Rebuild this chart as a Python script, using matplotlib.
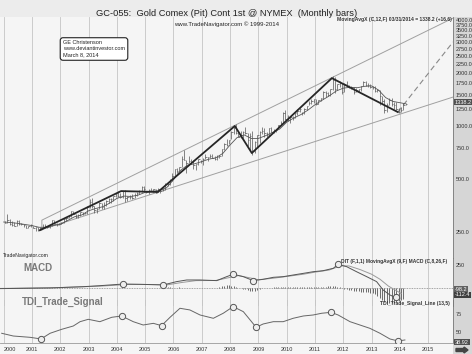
import numpy as np
import matplotlib
matplotlib.use("Agg")
import matplotlib.pyplot as plt
from matplotlib.patches import Rectangle, FancyArrow

plt.rcParams['font.family'] = ['Liberation Sans', 'DejaVu Sans']

# ---------------- DATA ----------------
# monthly gold bars, Jan 2000 .. Mar 2014
highs = [289, 315, 297, 290, 285, 293, 292, 282, 279, 275, 272, 276,
         272, 268, 268, 266, 278, 276, 270, 275, 294, 293, 281, 280,
         284, 302, 304, 310, 328, 330, 316, 317, 326, 326, 323, 350,
         385, 389, 352, 341, 370, 367, 369, 380, 391, 392, 398, 418,
         429, 419, 430, 432, 400, 404, 410, 417, 420, 431, 455, 457,
         428, 438, 445, 438, 440, 443, 435, 447, 474, 477, 497, 541,
         572, 575, 587, 676, 732, 642, 675, 650, 638, 610, 649, 640,
         657, 689, 670, 692, 692, 673, 683, 684, 743, 797, 841, 834,
         933, 1008, 1033, 933, 934, 939, 988, 915, 911, 936, 827, 887,
         937, 991, 969, 923, 980, 982, 961, 964, 1019, 1070, 1195, 1227,
         1161, 1129, 1135, 1180, 1249, 1266, 1199, 1258, 1307, 1381, 1425, 1432,
         1421, 1411, 1445, 1575, 1578, 1560, 1632, 1917, 1895, 1728, 1805, 1762,
         1764, 1792, 1720, 1678, 1666, 1638, 1632, 1693, 1791, 1795, 1754, 1723,
         1697, 1681, 1616, 1604, 1487, 1424, 1348, 1434, 1434, 1361, 1362, 1264,
         1280, 1346, 1355]
lows = [280, 283, 275, 271, 270, 271, 275, 273, 268, 262, 262, 268,
        262, 255, 255, 256, 265, 265, 265, 264, 271, 276, 270, 273,
        277, 280, 288, 300, 305, 316, 302, 300, 310, 311, 315, 318,
        343, 343, 320, 320, 337, 340, 340, 350, 365, 365, 377, 396,
        397, 392, 390, 371, 374, 387, 385, 388, 399, 412, 421, 428,
        418, 413, 425, 423, 415, 421, 418, 430, 433, 456, 462, 490,
        520, 540, 552, 583, 637, 543, 614, 605, 570, 560, 600, 614,
        604, 649, 636, 660, 655, 642, 645, 656, 673, 729, 775, 790,
        845, 905, 906, 869, 850, 860, 900, 774, 735, 681, 706, 758,
        802, 901, 865, 866, 878, 923, 908, 928, 992, 1019, 1044, 1077,
        1069, 1045, 1088, 1112, 1160, 1206, 1157, 1177, 1241, 1316, 1331, 1358,
        1309, 1331, 1381, 1424, 1462, 1478, 1480, 1609, 1532, 1600, 1671, 1523,
        1563, 1701, 1640, 1612, 1527, 1563, 1566, 1589, 1692, 1692, 1673, 1635,
        1626, 1555, 1566, 1322, 1339, 1180, 1208, 1311, 1291, 1251, 1232, 1182,
        1200, 1239, 1320]
closes = [283, 293, 277, 274, 272, 288, 276, 278, 273, 264, 270, 273,
          265, 267, 258, 264, 266, 271, 266, 273, 293, 279, 275, 279,
          282, 297, 302, 308, 327, 318, 304, 313, 324, 317, 319, 348,
          368, 350, 335, 337, 364, 346, 354, 375, 385, 386, 398, 417,
          401, 397, 427, 388, 394, 395, 391, 408, 416, 429, 453, 438,
          422, 435, 428, 436, 417, 436, 429, 434, 470, 471, 496, 518,
          569, 557, 584, 653, 643, 616, 634, 626, 598, 605, 648, 635,
          651, 666, 663, 680, 659, 651, 666, 673, 743, 789, 783, 834,
          923, 971, 916, 865, 886, 930, 914, 833, 880, 718, 814, 884,
          928, 942, 917, 891, 979, 927, 955, 955, 1008, 1040, 1182, 1096,
          1081, 1118, 1113, 1179, 1212, 1245, 1181, 1248, 1307, 1357, 1385, 1421,
          1333, 1409, 1439, 1556, 1536, 1500, 1628, 1825, 1620, 1725, 1746, 1566,
          1738, 1710, 1669, 1664, 1561, 1604, 1615, 1692, 1776, 1719, 1713, 1676,
          1663, 1578, 1597, 1476, 1393, 1234, 1313, 1396, 1327, 1323, 1250, 1202,
          1240, 1322, 1340]

# 12 month moving average, quarterly readings
ma_years = [2000.0, 2000.25, 2000.5, 2000.75, 2001.0, 2001.25, 2001.5, 2001.75,
            2002.0, 2002.25, 2002.5, 2002.75, 2003.0, 2003.25, 2003.5, 2003.75,
            2004.0, 2004.25, 2004.5, 2004.75, 2005.0, 2005.25, 2005.5, 2005.75,
            2006.0, 2006.25, 2006.5, 2006.75, 2007.0, 2007.25, 2007.5, 2007.75,
            2008.0, 2008.25, 2008.5, 2008.75, 2009.0, 2009.25, 2009.5, 2009.75,
            2010.0, 2010.25, 2010.5, 2010.75, 2011.0, 2011.25, 2011.5, 2011.75,
            2012.0, 2012.25, 2012.5, 2012.75, 2013.0, 2013.25, 2013.5, 2013.75,
            2014.2]
ma_vals = [285, 283, 280, 276, 272, 266, 266, 272,
           277, 290, 305, 312, 330, 340, 348, 365,
           388, 400, 398, 405, 420, 427, 430, 445,
           495, 560, 600, 610, 628, 648, 660, 700,
           780, 860, 890, 850, 850, 880, 920, 960,
           1050, 1110, 1160, 1230, 1320, 1400, 1480, 1580,
           1640, 1660, 1650, 1680, 1690, 1600, 1450, 1380,
           1338]

# hand drawn trend lines
zig_years = [2001.28, 2004.15, 2005.45, 2008.17, 2008.77, 2011.6, 2013.93]
zig_vals = [256, 427, 422, 1000, 702, 1870, 1200]
upper_years = [2001.35, 2001.35, 2015.88]
upper_vals = [256, 292, 4100]
lower_years = [2001.28, 2015.88]
lower_vals = [256, 1460]
dash_years = [2013.93, 2015.88]
dash_vals = [1200, 3000]

price_ticks = [4000, 3750, 3500, 3250, 3000, 2750, 2500, 2250, 2000, 1750,
               1500, 1250, 1000, 750, 500, 250]

# MACD
macd_years = [1999.87, 2001.64, 2002.81, 2003.4, 2004.23, 2004.82, 2005.64,
              2006.11, 2006.47, 2006.94, 2007.53, 2007.88, 2008.11, 2008.47,
              2008.82, 2009.17, 2009.53, 2009.88, 2010.23, 2010.59, 2010.94,
              2011.29, 2011.65, 2011.82, 2012.12, 2012.47, 2012.83, 2013.18,
              2013.41, 2013.65, 2013.83, 2014.0]
macd_vals = [-7, 0, 14, 25, 43, 40, 33, 69, 87, 87, 80, 123, 149, 123, 80,
             94, 116, 123, 141, 159, 177, 188, 214, 257, 232, 177, 123, 69,
             -22, -76, -101, -112]
sig_years = [1999.87, 2002.0, 2003.4, 2004.4, 2005.0, 2005.8, 2006.3, 2006.8,
             2007.5, 2008.0, 2008.3, 2008.7, 2009.0, 2009.5, 2010.0, 2010.6,
             2011.0, 2011.5, 2011.9, 2012.2, 2012.6, 2013.0, 2013.3, 2013.6,
             2014.05]
sig_vals = [-5, 5, 20, 38, 38, 35, 60, 80, 82, 115, 135, 110, 90, 105, 125,
            150, 172, 195, 240, 240, 200, 150, 95, 20, -60]
macd_circ_years = [2004.23, 2005.64, 2008.11, 2008.82, 2011.82, 2013.85]
macd_circ_vals = [43, 33, 149, 80, 257, -101]
# histogram, monthly from Jul 2005 to Feb 2014
hist_vals = [3, 4, 5, 6, 6, 5,
             5, 5, 6, 4, 3, 0, -2, -3, -2, 0, 0, 0,
             0, 0, 0, 0, 0, 0, 5, 10, 20, 25, 28, 30,
             25, 20, 15, 5, -5, -10, -15, -25, -30, -35, -30, -20,
             -10, 0, 0, 0, 5, 5, 8, 10, 10, 12, 15, 12,
             10, 10, 8, 8, 10, 12, 10, 10, 12, 12, 12, 14,
             12, 14, 14, 12, 14, 18, 18, 25, 20, 15, 10, 0,
             -10, -15, -20, -25, -30, -35, -35, -40, -40, -40, -45, -50,
             -55, -70, -90, -110, -130, -150, -160, -165, -165, -160, -150, -140,
             -130, -120]

# TDI trade signal
tdi_years = [1999.93, 2000.34, 2000.93, 2001.32, 2001.64, 2002.05, 2002.46,
             2002.7, 2002.99, 2003.4, 2003.82, 2004.17, 2004.58, 2004.93,
             2005.29, 2005.58, 2005.88, 2006.23, 2006.58, 2006.94, 2007.41,
             2007.76, 2008.11, 2008.47, 2008.76, 2008.92, 2009.17, 2009.53,
             2009.88, 2010.23, 2010.59, 2010.94, 2011.24, 2011.57, 2011.82,
             2012.24, 2012.59, 2012.94, 2013.3, 2013.65, 2013.94, 2014.18]
tdi_vals = [48.2, 44.4, 42.6, 40.3, 48.2, 53.7, 58.3, 64.3, 67.6, 64.3, 70.4,
            72.2, 64.3, 59.7, 62.0, 58.8, 70.4, 82.9, 80.6, 73.6, 69.0, 76.0,
            85.2, 78.2, 64.3, 56.5, 61.1, 64.3, 64.3, 69.0, 72.2, 73.6, 76.0,
            77.3, 73.6, 64.3, 59.7, 55.1, 48.2, 40.3, 37.5, 38.9]
tdi_circ_years = [2001.32, 2004.17, 2005.58, 2008.11, 2008.92, 2011.57, 2013.94]
tdi_circ_vals = [40.3, 72.2, 58.8, 85.2, 56.5, 77.3, 37.5]

years = list(range(2000, 2016))

# ---------------- FIGURE ----------------
W, H = 472, 354
fig = plt.figure(figsize=(W / 100, H / 100), dpi=100, facecolor='#ececec')

def box(x0, y0, x1, y1):
    return [x0 / W, 1 - y1 / H, (x1 - x0) / W, (y1 - y0) / H]

XL = (1999.87, 2015.88)
grid_c = '#c4c4c4'
bar_c = '#555555'
small = 4.0

# light chart area and right grey strip (drawn below the axes)
fig.patches.append(Rectangle((0, 0), 453 / W, 1 - 17 / H, transform=fig.transFigure,
                             facecolor='#f5f5f5', edgecolor='none', zorder=-2))
fig.patches.append(Rectangle((453 / W, 0), 19 / W, 1 - 17 / H, transform=fig.transFigure,
                             facecolor='#d6d6d6', edgecolor='none', zorder=-1))

# ---- main price panel
ax = fig.add_axes(box(0, 17, 453, 258))
ax.patch.set_alpha(0)
ax.set_yscale('log')
ax.set_xlim(*XL)
ax.set_ylim(178, 4160)
for y in years:
    ax.axvline(y, color=grid_c, lw=0.6, zorder=1)

t = 2000 + (np.arange(len(closes)) + 0.5) / 12
ax.vlines(t, lows, highs, color=bar_c, lw=0.5, zorder=3)
ax.hlines(closes, t, t + 0.05, color=bar_c, lw=0.5, zorder=3)
ax.plot(ma_years, ma_vals, color='#555555', lw=0.6, zorder=3)

ax.plot(upper_years, upper_vals, color='#a0a0a0', lw=0.7, zorder=2)
ax.plot(lower_years, lower_vals, color='#a0a0a0', lw=0.7, zorder=2)
ax.plot(dash_years, dash_vals, color='#888888', lw=0.8, dashes=(5, 3), zorder=2)
ax.plot(zig_years, zig_vals, color='#262626', lw=1.3, zorder=4)

ax.yaxis.tick_right()
ax.minorticks_off()
ax.set_yticks(price_ticks)
ax.set_yticklabels(['%.1f' % v for v in price_ticks])
ax.tick_params(axis='y', which='both', labelsize=small, length=0, pad=2, colors='#333333')
ax.set_xticks([])
for s in ['top', 'left', 'bottom']:
    ax.spines[s].set_visible(False)
ax.spines['right'].set_color('#777777')
ax.spines['right'].set_linewidth(0.6)

fig.text(455 / W, 1 - 102 / H, '1338.2', fontsize=small, color='white', va='center', ha='left',
         bbox=dict(boxstyle='square,pad=0.15', facecolor='#505050', edgecolor='none'))

fig.text(452 / W, 1 - 20 / H, 'MovingAvgX (C,12,F) 03/31/2014 = 1338.2 (+16.6)',
         fontsize=3.6, fontweight='bold', color='#333333', ha='right', va='center')
fig.text(63 / W, 1 - 49 / H, 'GE Christenson\nwww.deviantinvestor.com\nMarch 8, 2014',
         fontsize=4.0, color='#222222', ha='left', va='center', linespacing=1.25,
         bbox=dict(boxstyle='round,pad=0.5,rounding_size=0.5', facecolor='white',
                   edgecolor='#222222', lw=0.8))
fig.text(3 / W, 1 - 256 / H, 'TradeNavigator.com', fontsize=3.6, color='#222222',
         ha='left', va='center')

# ---- MACD panel
am = fig.add_axes(box(0, 258, 453, 306))
am.patch.set_alpha(0)
am.set_xlim(*XL)
am.set_ylim(-196, 326)
for y in years:
    am.axvline(y, color=grid_c, lw=0.6, zorder=1)
am.axhline(0, color='#888888', lw=0.6, ls=(0, (1, 1)), zorder=2)
th = 2005.5 + (np.arange(len(hist_vals)) + 0.5) / 12
am.vlines(th, 0, hist_vals, color='#555555', lw=0.6, zorder=3)
am.plot(sig_years, sig_vals, color='#9a9a9a', lw=0.7, zorder=3)
am.plot(macd_years, macd_vals, color='#555555', lw=0.7, zorder=4)
am.plot(macd_circ_years, macd_circ_vals, 'o', ms=4.5, mfc='#eeeeee', mec='#555555',
        mew=0.7, zorder=5)
am.yaxis.tick_right()
am.set_yticks([250])
am.set_yticklabels(['250'])
am.tick_params(axis='y', labelsize=small, length=0, pad=2, colors='#333333')
am.set_xticks([])
for s in ['top', 'left', 'bottom']:
    am.spines[s].set_visible(False)
am.spines['right'].set_color('#777777')
am.spines['right'].set_linewidth(0.6)
am.text(341 / 453, 0.92, 'DIT (F,1,1) MovingAvgX (9,F) MACD (C,8,26,F)', transform=am.transAxes,
        fontsize=3.5, fontweight='bold', color='#333333', ha='left', va='center')
fig.text(23 / W, 1 - 268 / H, 'MACD', fontsize=7, fontweight='bold', color='#7a7a7a',
         ha='left', va='center')
fig.text(455 / W, 1 - 289.5 / H, '-98.2', fontsize=small, color='white', va='center',
         bbox=dict(boxstyle='square,pad=0.15', facecolor='#606060', edgecolor='none'))
fig.text(455 / W, 1 - 295 / H, '-112.4', fontsize=small, color='white', va='center',
         bbox=dict(boxstyle='square,pad=0.15', facecolor='#404040', edgecolor='none'))

# ---- TDI panel
at = fig.add_axes(box(0, 300, 453, 343))
at.patch.set_alpha(0)
at.set_xlim(*XL)
at.set_ylim(34.7, 94.4)
for y in years:
    at.axvline(y, color=grid_c, lw=0.6, zorder=1)
at.plot(tdi_years, tdi_vals, color='#666666', lw=0.7, zorder=3)
at.plot(tdi_circ_years, tdi_circ_vals, 'o', ms=4.5, mfc='#eeeeee', mec='#555555',
        mew=0.7, zorder=5)
at.yaxis.tick_right()
at.set_yticks([75, 50])
at.set_yticklabels(['75', '50'])
at.tick_params(axis='y', labelsize=small, length=0, pad=2, colors='#333333')
at.set_xticks(years)
at.set_xticklabels([str(y) for y in years])
at.tick_params(axis='x', labelsize=small, length=0, pad=3, colors='#333333')
at.get_xticklabels()[0].set_horizontalalignment('left')
for s in ['top', 'left']:
    at.spines[s].set_visible(False)
at.spines['bottom'].set_color('#999999')
at.spines['bottom'].set_linestyle((0, (1, 1)))
at.spines['bottom'].set_linewidth(0.6)
at.spines['right'].set_color('#777777')
at.spines['right'].set_linewidth(0.6)
fig.text(22 / W, 1 - 302 / H, 'TDI_Trade_Signal', fontsize=7, fontweight='bold',
         color='#7a7a7a', ha='left', va='center')
fig.text(415 / W, 1 - 304 / H, 'TDI_Trade_Signal_Line (13,5)', fontsize=3.6,
         fontweight='bold', color='#333333', ha='center', va='center')
fig.text(455 / W, 1 - 342 / H, '38.92', fontsize=small, color='white', va='center',
         bbox=dict(boxstyle='square,pad=0.15', facecolor='#505050', edgecolor='none'))
fig.patches.append(FancyArrow(456 / W, 1 - 350 / H, 12 / W, 0, width=3 / H,
                              head_width=6 / H, head_length=4 / W, length_includes_head=True,
                              transform=fig.transFigure, color='#444444'))

# ---- header
fig.text(227 / W, 1 - 13 / H, 'GC-055:  Gold Comex (Pit) Cont 1st @ NYMEX  (Monthly bars)',
         fontsize=6.7, color='#222222', ha='center', va='center')
fig.text(227 / W, 1 - 24 / H, 'www.TradeNavigator.com \u00a9 1999-2014', fontsize=4.3,
         color='#222222', ha='center', va='center')

fig.savefig('out.png', dpi=100, facecolor=fig.get_facecolor())
